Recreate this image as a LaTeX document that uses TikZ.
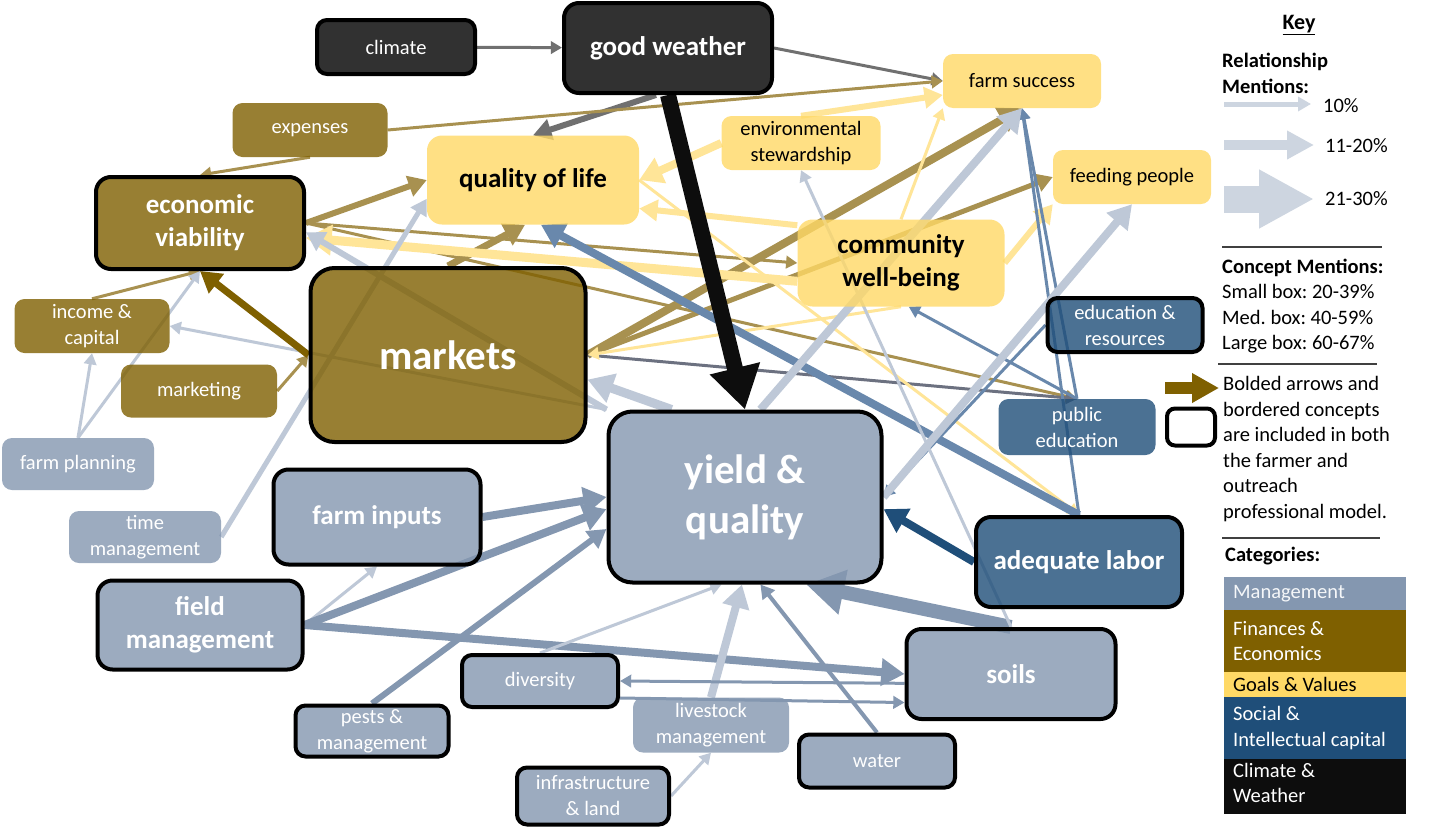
\documentclass[tikz,border=0pt]{standalone}
\usepackage{fontspec}
\setmainfont{Carlito}
\usepackage{tikz}
\usetikzlibrary{arrows.meta,backgrounds,positioning}
\definecolor{catmg}{RGB}{132,151,176}
\definecolor{catfin}{RGB}{127,96,0}
\definecolor{catgoal}{RGB}{255,217,102}
\definecolor{catsoc}{RGB}{31,78,121}
\definecolor{catclim}{RGB}{13,13,13}
\definecolor{arrmg}{RGB}{190,200,215}
\definecolor{arrfin}{RGB}{168,145,80}
\definecolor{arrgoal}{RGB}{255,229,152}
\definecolor{arrsoc}{RGB}{105,136,172}
\definecolor{arrclim}{RGB}{112,112,112}
\definecolor{arrslate}{RGB}{108,113,128}
\definecolor{keyarr}{RGB}{205,213,224}
\definecolor{keyline}{RGB}{64,64,64}
\frenchspacing

\begin{document}
\begin{tikzpicture}[x=1pt,y=-1pt]
  \tikzstyle{box}=[rectangle,rounded corners=10pt,align=center,inner sep=0pt,fill opacity=0.8,text opacity=1,text=white]
  \tikzstyle{sml}=[box,minimum width=155pt,minimum height=54pt,font=\fontsize{20.5}{26}\selectfont]
  \tikzstyle{med}=[box,rounded corners=15pt,minimum width=207pt,minimum height=90pt,font=\bfseries\fontsize{27}{33}\selectfont]
  \tikzstyle{big}=[box,rounded corners=24pt,minimum width=274pt,minimum height=172pt,font=\bfseries\fontsize{41}{50}\selectfont]
  \tikzstyle{brd}=[draw=black,line width=4pt]
  \tikzstyle{fmg}=[fill=catmg]
  \tikzstyle{ffin}=[fill=catfin]
  \tikzstyle{fgoal}=[fill=catgoal,text=black]
  \tikzstyle{fsoc}=[fill=catsoc]
  \tikzstyle{fclim}=[fill=catclim,fill opacity=0.85]
  \tikzstyle{rel}=[-{Triangle[length=4pt 2.4,width=4pt 2.8]}]
  \tikzstyle{keytxt}=[anchor=west,align=left,inner sep=0pt,font=\fontsize{20.5}{25.6}\selectfont]
  \useasboundingbox (0,0) rectangle (1436,836);

  % concepts
  \node[sml,fclim,brd,minimum width=158pt] (climate) at (396,47) {climate};
  \node[med,fclim,brd,minimum width=208pt] (weather) at (668,48) {good weather};
  \node[sml,ffin] (expenses) at (310,130) {expenses};
  \node[med,ffin,brd,minimum width=208pt,minimum height=92pt] (econ) at (200,223) {economic\\viability};
  \node[med,fgoal,minimum width=212pt,minimum height=89pt] (qol) at (533,180) {quality of life};
  \node[sml,fgoal,minimum width=159pt] (envstew) at (801,143) {environmental\\stewardship};
  \node[sml,fgoal,minimum width=158pt] (success) at (1022,81) {farm success};
  \node[sml,fgoal,minimum width=158pt] (feeding) at (1132,177) {feeding people};
  \node[med,fgoal,minimum height=87pt] (community) at (901,263) {community\\well-being};
  \node[sml,ffin] (income) at (92,326) {income \&\\capital};
  \node[sml,ffin,minimum width=156pt,minimum height=53pt] (marketing) at (199,391) {marketing};
  \node[big,ffin,brd,minimum width=275pt,minimum height=174pt] (markets) at (448,355) {markets};
  \node[sml,fmg,minimum width=152pt,minimum height=52pt] (farmplan) at (78,464) {farm planning};
  \node[sml,fmg,minimum width=152pt,minimum height=52pt] (timemgmt) at (145,537) {time\\management};
  \node[med,fmg,brd,minimum height=95pt] (farminputs) at (377,517) {farm inputs};
  \node[big,fmg,brd,minimum height=171pt,minimum width=273pt] (yield) at (745,497) {yield \&\\quality};
  \node[med,fmg,brd,minimum width=205pt,minimum height=89pt] (fieldmgmt) at (200,625) {field\\management};
  \node[sml,fmg,brd,minimum width=153pt,minimum height=51pt] (pests) at (372,731) {pests \&\\management};
  \node[sml,fmg,brd,minimum width=156pt,minimum height=52pt] (diversity) at (540,681) {diversity};
  \node[sml,fmg,minimum width=156pt,minimum height=55pt] (livestock) at (711,725) {livestock\\management};
  \node[sml,fmg,brd,minimum width=152pt,minimum height=57pt] (infra) at (593,796) {infrastructure\\\& land};
  \node[sml,fmg,brd,minimum width=156pt,minimum height=53pt] (water) at (877,761) {water};
  \node[med,fmg,brd,minimum width=209pt] (soils) at (1011,674) {soils};
  \node[sml,fsoc,brd] (edures) at (1125,325) {education \&\\resources};
  \node[sml,fsoc,minimum width=157pt,minimum height=56pt] (pubed) at (1077,427) {public\\education};
  \node[med,fsoc,brd,minimum width=206pt] (labor) at (1079,562) {adequate labor};

  \begin{scope}[on background layer]
    \fill[white] (0,0) rectangle (1436,836);
    % climate & weather
    \draw[rel,arrclim,line width=3pt] (climate) -- (weather);
    \draw[rel,arrclim,line width=3pt] (weather.east) -- (success.west);
    \draw[rel,arrclim,line width=6pt] ([xshift=-12pt]weather.south) -- (qol.north);
    % finances
    \draw[rel,arrfin,line width=3pt] (expenses.south) -- (econ.north);
    \draw[rel,arrfin,line width=3pt] (expenses.east) -- (success.west);
    \draw[rel,arrfin,line width=6pt] (econ.east) -- (qol.west);
    \draw[rel,arrfin,line width=3pt] (econ.east) -- (community.west);
    \draw[rel,arrfin,line width=3pt] (econ.east) -- (pubed.north);
    \draw[rel,arrfin,line width=3pt] (income.north) -- (econ.south);
    \draw[rel,arrfin,line width=3pt] (marketing.east) -- (markets.west);
    \draw[rel,arrfin,line width=7pt] (markets.north) -- (qol.-100);
    \draw[rel,arrfin,line width=8pt] (markets.east) -- (success.south);
    \draw[rel,arrfin,line width=5pt] (markets.east) -- (feeding.west);
    \draw[rel,arrslate,line width=3pt] (markets.east) -- (pubed.north);
    % goals & values
    \draw[rel,arrgoal,line width=9pt] (community.190) -- (econ.-8);
    \draw[rel,arrgoal,line width=6pt] (community.160) -- (qol.-15);
    \draw[rel,arrgoal,line width=8pt] (envstew.west) -- (qol.east);
    \draw[rel,arrgoal,line width=6pt] (envstew.north) -- (success.190);
    \draw[rel,arrgoal,line width=3pt] (community.north) -- (success.south west);
    \draw[rel,arrgoal,line width=6pt] (community.east) -- (feeding.south west);
    \draw[rel,arrgoal,line width=3pt] (community.south) -- (markets.east);
    \draw[rel,arrgoal,line width=3pt] (qol.east) -- (labor.north);
    % social & intellectual capital
    \draw[rel,arrsoc,line width=8pt] (labor.north) -- (qol.-80);
    \draw[rel,arrsoc,line width=3pt] (labor.north) -- (success.south);
    \draw[rel,arrsoc,line width=3pt] (pubed.north) -- (success.south);
    \draw[rel,arrsoc,line width=3pt] (pubed.north) -- (community.-80);
    \draw[rel,arrsoc,line width=3pt] (edures.west) -- (yield.east);
    % management
    \draw[rel,arrmg,line width=3pt] (farmplan.north) -- (income.south);
    \draw[rel,arrmg,line width=3pt] (farmplan.north) -- (econ.south);
    \draw[rel,arrmg,line width=5pt] (timemgmt.east) -- (qol.190);
    \draw[rel,arrmg,line width=3pt] (yield.north west) -- (income.east);
    \draw[rel,arrmg,line width=6pt] (yield.north west) -- (econ.-5);
    \draw[rel,arrmg,line width=9pt] (yield.130) -- (markets.-10);
    \draw[rel,arrmg,line width=8pt] (yield.80) -- (success.south);
    \draw[rel,arrmg,line width=8pt] (yield.east) -- (feeding.south);
    \draw[rel,arrmg,line width=3pt] (fieldmgmt.east) -- (farminputs.south);
    \draw[rel,catmg,line width=8pt] (farminputs.east) -- (yield.west);
    \draw[rel,catmg,line width=8pt] (fieldmgmt.east) -- (yield.185);
    \draw[rel,catmg,line width=8pt] (fieldmgmt.east) -- (soils.west);
    \draw[rel,catmg,line width=6pt] (pests.north) -- (yield.193);
    \draw[rel,arrmg,line width=3pt] (diversity.north) -- (yield.-105);
    \draw[rel,arrmg,line width=8pt] (livestock.north) -- (yield.-92);
    \draw[rel,arrmg,line width=3pt] (infra.east) -- (livestock.south);
    \draw[rel,catmg,line width=4pt] (water.north) -- (yield.-80);
    \draw[rel,catmg,line width=14pt] (soils.north) -- (yield.-55);
    \draw[rel,catmg,line width=3pt] (soils.185) -- (diversity.east);
    \draw[rel,catmg,line width=3pt] (diversity.-12) -- (soils.-165);
    \draw[rel,arrmg,line width=3pt] (soils.north) -- (envstew.south);
    % bolded arrows
    \draw[rel,catfin,line width=7pt] (markets.west) -- (econ.south);
    \draw[rel,catsoc,line width=8pt] (labor.west) -- (yield.-5);
    \draw[rel,catclim,line width=16pt] (weather.south) -- (yield.north);
  \end{scope}

  % key
  \node[font=\bfseries\fontsize{22}{26}\selectfont] (keytitle) at (1299,25) {\underline{Key}};
  \node[keytxt,font=\bfseries\fontsize{20.5}{26}\selectfont] (relhead) at (1222,73) {Relationship\\Mentions:};
  \coordinate (ka) at (1224,104); \coordinate (kb) at (1311,104);
  \coordinate (kc) at (1224,145); \coordinate (kd) at (1314,145);
  \coordinate (ke) at (1224,199); \coordinate (kf) at (1314,199);
  \draw[keyarr,line width=5pt,-{Triangle[length=13pt,width=14pt]}] (ka) -- (kb);
  \draw[keyarr,line width=10pt,-{Triangle[length=27pt,width=27pt]}] (kc) -- (kd);
  \draw[keyarr,line width=27pt,-{Triangle[length=55pt,width=55pt]}] (ke) -- (kf);
  \node[keytxt] (k10) at (1323,106) {10\%};
  \node[keytxt] (k20) at (1325,146) {11-20\%};
  \node[keytxt] (k30) at (1325,199) {21-30\%};
  \draw[keyline,line width=1.5pt] (1222,247) -- (1382,247);
  \node[keytxt,font=\bfseries\fontsize{20.5}{26}\selectfont] (conhead) at (1222,268) {Concept Mentions:};
  \node[keytxt] (consizes) at (1222,319) {Small box: 20-39\%\\Med. box: 40-59\%\\Large box: 60-67\%};
  \draw[keyline,line width=1.5pt] (1218,364) -- (1377,364);
  \coordinate (kg) at (1165,388); \coordinate (kh) at (1219,388);
  \draw[catfin,line width=12pt,-{Triangle[length=27pt,width=28pt]}] (kg) -- (kh);
  \node[draw=black,line width=4pt,rounded corners=8pt,minimum width=48pt,minimum height=37pt,fill=white] (keybox) at (1191,427) {};
  \node[keytxt] (bothtxt) at (1223,449) {Bolded arrows and\\bordered concepts\\are included in both\\the farmer and\\outreach\\professional model.};
  \draw[keyline,line width=1.5pt] (1222,538) -- (1380,538);
  \node[keytxt,font=\bfseries\fontsize{20.5}{26}\selectfont] (cathead) at (1225,556) {Categories:};
  \fill[catmg] (1224,577) rectangle (1406,610.3);
  \fill[catfin] (1224,610) rectangle (1406,672.3);
  \fill[catgoal] (1224,672) rectangle (1406,697.3);
  \fill[catsoc] (1224,697) rectangle (1406,759.3);
  \fill[catclim] (1224,759) rectangle (1406,814);
  \node[keytxt,text=white!92!catmg] (cmg) at (1233,593.5) {Management};
  \node[keytxt,text=white] (cfin) at (1233,641) {Finances \&\\Economics};
  \node[keytxt,text=black] (cgoal) at (1233,684.5) {Goals \& Values};
  \node[keytxt,text=white] (csoc) at (1233,728) {Social \&\\Intellectual capital};
  \node[keytxt,text=white] (cclim) at (1233,783) {Climate \&\\Weather};
\end{tikzpicture}
\end{document}
